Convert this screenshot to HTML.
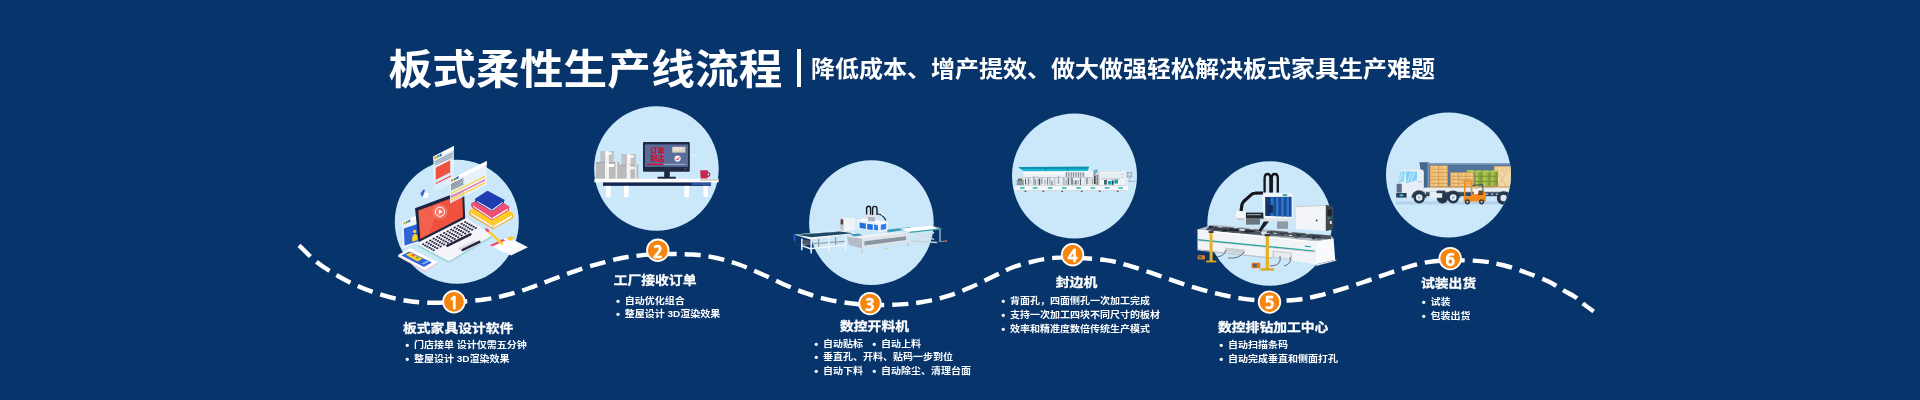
<!DOCTYPE html>
<html lang="zh-CN">
<head>
<meta charset="utf-8">
<title>板式柔性生产线流程</title>
<style>
  html, body { margin: 0; padding: 0; }
  body {
    width: 1920px; height: 400px; overflow: hidden;
    background: #07346a;
    font-family: "Liberation Sans", "Noto Sans CJK SC", sans-serif;
    color: #fff;
  }
  #stage { position: relative; width: 1920px; height: 400px; overflow: hidden; background: #07346a; }
  #txt { position: absolute; left: 0; top: 0; width: 1920px; height: 400px; will-change: transform; }
  #art { position: absolute; left: 0; top: 0; width: 1920px; height: 400px; }
  .t { position: absolute; white-space: nowrap; color: #fff; line-height: 1; transform-origin: 0 50%; }
  .title { left: 388.4px; top: 48.6px; font-size: 43.6px; font-weight: 700; letter-spacing: 0.2px; transform: scaleY(0.95); }
  .bar { position: absolute; left: 797.3px; top: 49px; width: 3.4px; height: 38px; background: #fff; }
  .sub { left: 811px; top: 57px; font-size: 24px; font-weight: 700; transform: scaleY(0.94); }
  .h { font-size: 13.8px; font-weight: 700; -webkit-text-stroke: 0.3px #fff; transform: scaleY(0.9); }
  .b { font-size: 10px; font-weight: 700; transform: scaleY(0.93); }
  .b i { font-style: normal; display: inline-block; width: 8.8px; font-size: 11.5px; line-height: 10px; vertical-align: -0.3px; }
  .num { position: absolute; width: 20px; height: 20px; text-align: center; line-height: 20px;
         font-size: 17px; font-weight: 800; -webkit-text-stroke: 0.3px #fff; color: #fff; font-family: "NanumGothic", "Liberation Sans", sans-serif; }
</style>
</head>
<body>
<div id="stage">
<svg id="art" viewBox="0 0 1920 400" width="1920" height="400">
  <!-- light circles -->
  <g fill="#cbe7fa">
    <circle cx="456.8" cy="221.8" r="62"/>
    <circle cx="656.4" cy="168.5" r="62.3"/>
    <circle cx="871.4" cy="222.6" r="62.3"/>
    <circle cx="1074.5" cy="176" r="62.5"/>
    <circle cx="1269.6" cy="223.5" r="62.3"/>
    <circle cx="1448.5" cy="175" r="62.5"/>
  </g>
  <!-- ILLS -->
  <!-- ============ illustration 1: laptop / books / windows ============ -->
  <g id="ill1">
    <!-- small browser window left of laptop -->
    <polygon points="402.4,225.2 419,217.6 419,242 402.4,248.6" fill="#eaf3fb"/>
    <polygon points="402.4,222 419,214.4 419,217.8 402.4,225.4" fill="#ffffff"/>
    <polygon points="403.4,222.6 405.4,221.7 405.4,223.9 403.4,224.8" fill="#f08a24"/>
    <polygon points="405.8,221.5 407.8,220.6 407.8,222.8 405.8,223.7" fill="#3aa655"/>
    <polygon points="408.2,220.4 410.2,219.5 410.2,221.7 408.2,222.6" fill="#2b55c9"/>
    <polygon points="403.8,228.4 419,223.4 419,241 404.6,245.6" fill="#2d63d6"/>
    <circle cx="414.6" cy="231.4" r="1.7" fill="#ffd21f"/>
    <path d="M412.2 241.8 C411.6 237 413 234.2 415 234 C417.2 234 418 236.6 417.6 240 Z" fill="#ffd21f"/>
    <!-- laptop deck -->
    <path d="M418 243.5 L464.5 218.6 L491.4 236.2 Q492.4 237.4 491 238.2 L450.4 262.2 Q448.8 263 447.2 262.2 L418.4 247 Z" fill="#9ed7d6"/>
    <path d="M418.4 241.4 L464.5 216.8 L490.6 234.6 Q491.8 235.6 490.4 236.4 L450.2 260.4 Q448.8 261.2 447.4 260.4 L418.6 245 Z" fill="#f5f4fa"/>
    
    <!-- keyboard: rows of keys -->
    <g fill="#23233b">
      <ellipse cx="423.2" cy="244.2" rx="1.25" ry="0.82" transform="rotate(-27 423.2 244.2)"/>
      <ellipse cx="426.7" cy="242.3" rx="1.25" ry="0.82" transform="rotate(-27 426.7 242.3)"/>
      <ellipse cx="430.2" cy="240.5" rx="1.25" ry="0.82" transform="rotate(-27 430.2 240.5)"/>
      <ellipse cx="433.7" cy="238.6" rx="1.25" ry="0.82" transform="rotate(-27 433.7 238.6)"/>
      <ellipse cx="437.2" cy="236.8" rx="1.25" ry="0.82" transform="rotate(-27 437.2 236.8)"/>
      <ellipse cx="440.7" cy="234.9" rx="1.25" ry="0.82" transform="rotate(-27 440.7 234.9)"/>
      <ellipse cx="444.2" cy="233.1" rx="1.25" ry="0.82" transform="rotate(-27 444.2 233.1)"/>
      <ellipse cx="447.7" cy="231.2" rx="1.25" ry="0.82" transform="rotate(-27 447.7 231.2)"/>
      <ellipse cx="451.2" cy="229.4" rx="1.25" ry="0.82" transform="rotate(-27 451.2 229.4)"/>
      <ellipse cx="454.7" cy="227.5" rx="1.25" ry="0.82" transform="rotate(-27 454.7 227.5)"/>
      <ellipse cx="458.2" cy="225.7" rx="1.25" ry="0.82" transform="rotate(-27 458.2 225.7)"/>
      <ellipse cx="461.7" cy="223.8" rx="1.25" ry="0.82" transform="rotate(-27 461.7 223.8)"/>
      <ellipse cx="465.2" cy="222.0" rx="1.25" ry="0.82" transform="rotate(-27 465.2 222.0)"/>
      <ellipse cx="425.3" cy="245.4" rx="1.25" ry="0.82" transform="rotate(-27 425.3 245.4)"/>
      <ellipse cx="428.8" cy="243.5" rx="1.25" ry="0.82" transform="rotate(-27 428.8 243.5)"/>
      <ellipse cx="432.3" cy="241.7" rx="1.25" ry="0.82" transform="rotate(-27 432.3 241.7)"/>
      <ellipse cx="435.8" cy="239.8" rx="1.25" ry="0.82" transform="rotate(-27 435.8 239.8)"/>
      <ellipse cx="439.3" cy="238.0" rx="1.25" ry="0.82" transform="rotate(-27 439.3 238.0)"/>
      <ellipse cx="442.8" cy="236.1" rx="1.25" ry="0.82" transform="rotate(-27 442.8 236.1)"/>
      <ellipse cx="446.3" cy="234.3" rx="1.25" ry="0.82" transform="rotate(-27 446.3 234.3)"/>
      <ellipse cx="449.8" cy="232.4" rx="1.25" ry="0.82" transform="rotate(-27 449.8 232.4)"/>
      <ellipse cx="453.3" cy="230.6" rx="1.25" ry="0.82" transform="rotate(-27 453.3 230.6)"/>
      <ellipse cx="456.8" cy="228.7" rx="1.25" ry="0.82" transform="rotate(-27 456.8 228.7)"/>
      <ellipse cx="460.3" cy="226.9" rx="1.25" ry="0.82" transform="rotate(-27 460.3 226.9)"/>
      <ellipse cx="463.8" cy="225.0" rx="1.25" ry="0.82" transform="rotate(-27 463.8 225.0)"/>
      <ellipse cx="467.3" cy="223.2" rx="1.25" ry="0.82" transform="rotate(-27 467.3 223.2)"/>
      <ellipse cx="427.4" cy="246.6" rx="1.25" ry="0.82" transform="rotate(-27 427.4 246.6)"/>
      <ellipse cx="430.9" cy="244.8" rx="1.25" ry="0.82" transform="rotate(-27 430.9 244.8)"/>
      <ellipse cx="434.4" cy="242.9" rx="1.25" ry="0.82" transform="rotate(-27 434.4 242.9)"/>
      <ellipse cx="437.9" cy="241.0" rx="1.25" ry="0.82" transform="rotate(-27 437.9 241.0)"/>
      <ellipse cx="441.4" cy="239.2" rx="1.25" ry="0.82" transform="rotate(-27 441.4 239.2)"/>
      <ellipse cx="444.9" cy="237.3" rx="1.25" ry="0.82" transform="rotate(-27 444.9 237.3)"/>
      <ellipse cx="448.4" cy="235.5" rx="1.25" ry="0.82" transform="rotate(-27 448.4 235.5)"/>
      <ellipse cx="451.9" cy="233.7" rx="1.25" ry="0.82" transform="rotate(-27 451.9 233.7)"/>
      <ellipse cx="455.4" cy="231.8" rx="1.25" ry="0.82" transform="rotate(-27 455.4 231.8)"/>
      <ellipse cx="458.9" cy="229.9" rx="1.25" ry="0.82" transform="rotate(-27 458.9 229.9)"/>
      <ellipse cx="462.4" cy="228.1" rx="1.25" ry="0.82" transform="rotate(-27 462.4 228.1)"/>
      <ellipse cx="465.9" cy="226.2" rx="1.25" ry="0.82" transform="rotate(-27 465.9 226.2)"/>
      <ellipse cx="469.4" cy="224.4" rx="1.25" ry="0.82" transform="rotate(-27 469.4 224.4)"/>
      <ellipse cx="429.5" cy="247.8" rx="1.25" ry="0.82" transform="rotate(-27 429.5 247.8)"/>
      <ellipse cx="433.0" cy="245.9" rx="1.25" ry="0.82" transform="rotate(-27 433.0 245.9)"/>
      <ellipse cx="436.5" cy="244.1" rx="1.25" ry="0.82" transform="rotate(-27 436.5 244.1)"/>
      <ellipse cx="440.0" cy="242.2" rx="1.25" ry="0.82" transform="rotate(-27 440.0 242.2)"/>
      <ellipse cx="443.5" cy="240.4" rx="1.25" ry="0.82" transform="rotate(-27 443.5 240.4)"/>
      <ellipse cx="447.0" cy="238.5" rx="1.25" ry="0.82" transform="rotate(-27 447.0 238.5)"/>
      <ellipse cx="450.5" cy="236.7" rx="1.25" ry="0.82" transform="rotate(-27 450.5 236.7)"/>
      <ellipse cx="454.0" cy="234.8" rx="1.25" ry="0.82" transform="rotate(-27 454.0 234.8)"/>
      <ellipse cx="457.5" cy="233.0" rx="1.25" ry="0.82" transform="rotate(-27 457.5 233.0)"/>
      <ellipse cx="461.0" cy="231.1" rx="1.25" ry="0.82" transform="rotate(-27 461.0 231.1)"/>
      <ellipse cx="464.5" cy="229.3" rx="1.25" ry="0.82" transform="rotate(-27 464.5 229.3)"/>
      <ellipse cx="468.0" cy="227.4" rx="1.25" ry="0.82" transform="rotate(-27 468.0 227.4)"/>
      <ellipse cx="471.5" cy="225.6" rx="1.25" ry="0.82" transform="rotate(-27 471.5 225.6)"/>
      <ellipse cx="431.6" cy="249.0" rx="1.25" ry="0.82" transform="rotate(-27 431.6 249.0)"/>
      <ellipse cx="435.1" cy="247.2" rx="1.25" ry="0.82" transform="rotate(-27 435.1 247.2)"/>
      <ellipse cx="438.6" cy="245.3" rx="1.25" ry="0.82" transform="rotate(-27 438.6 245.3)"/>
      <ellipse cx="442.1" cy="243.4" rx="1.25" ry="0.82" transform="rotate(-27 442.1 243.4)"/>
      <ellipse cx="445.6" cy="241.6" rx="1.25" ry="0.82" transform="rotate(-27 445.6 241.6)"/>
      <ellipse cx="449.1" cy="239.8" rx="1.25" ry="0.82" transform="rotate(-27 449.1 239.8)"/>
      <ellipse cx="452.6" cy="237.9" rx="1.25" ry="0.82" transform="rotate(-27 452.6 237.9)"/>
      <ellipse cx="456.1" cy="236.1" rx="1.25" ry="0.82" transform="rotate(-27 456.1 236.1)"/>
      <ellipse cx="459.6" cy="234.2" rx="1.25" ry="0.82" transform="rotate(-27 459.6 234.2)"/>
      <ellipse cx="463.1" cy="232.3" rx="1.25" ry="0.82" transform="rotate(-27 463.1 232.3)"/>
      <ellipse cx="466.6" cy="230.5" rx="1.25" ry="0.82" transform="rotate(-27 466.6 230.5)"/>
      <ellipse cx="470.1" cy="228.7" rx="1.25" ry="0.82" transform="rotate(-27 470.1 228.7)"/>
      <ellipse cx="473.6" cy="226.8" rx="1.25" ry="0.82" transform="rotate(-27 473.6 226.8)"/>
      <ellipse cx="433.7" cy="250.2" rx="1.25" ry="0.82" transform="rotate(-27 433.7 250.2)"/>
      <ellipse cx="437.2" cy="248.3" rx="1.25" ry="0.82" transform="rotate(-27 437.2 248.3)"/>
      <ellipse cx="440.7" cy="246.5" rx="1.25" ry="0.82" transform="rotate(-27 440.7 246.5)"/>
      <ellipse cx="444.2" cy="244.6" rx="1.25" ry="0.82" transform="rotate(-27 444.2 244.6)"/>
      <ellipse cx="447.7" cy="242.8" rx="1.25" ry="0.82" transform="rotate(-27 447.7 242.8)"/>
      <ellipse cx="451.2" cy="240.9" rx="1.25" ry="0.82" transform="rotate(-27 451.2 240.9)"/>
      <ellipse cx="454.7" cy="239.1" rx="1.25" ry="0.82" transform="rotate(-27 454.7 239.1)"/>
      <ellipse cx="458.2" cy="237.2" rx="1.25" ry="0.82" transform="rotate(-27 458.2 237.2)"/>
      <ellipse cx="461.7" cy="235.4" rx="1.25" ry="0.82" transform="rotate(-27 461.7 235.4)"/>
      <ellipse cx="465.2" cy="233.5" rx="1.25" ry="0.82" transform="rotate(-27 465.2 233.5)"/>
      <ellipse cx="468.7" cy="231.7" rx="1.25" ry="0.82" transform="rotate(-27 468.7 231.7)"/>
      <ellipse cx="472.2" cy="229.8" rx="1.25" ry="0.82" transform="rotate(-27 472.2 229.8)"/>
      <ellipse cx="475.7" cy="228.0" rx="1.25" ry="0.82" transform="rotate(-27 475.7 228.0)"/>
    </g>
    <!-- touch bars -->
    <path d="M447.4 245.6 L470.4 234.4" stroke="#23233b" stroke-width="2.6" stroke-linecap="round"/>
    <polygon points="457.5,248.4 474.5,240.2 480.6,243.6 463.6,251.8" fill="#dedbe8"/>
    <path d="M462.6 250 L479.4 241.8" stroke="#23233b" stroke-width="2.4" stroke-linecap="round"/>
    <!-- laptop lid -->
    <polygon points="415,208.2 464,190 465.2,218.6 418.6,242.2" fill="#1b2442"/>
    <polygon points="418.4,210.6 462.2,194 463,217 420.2,239" fill="#ef513d"/>
    <polygon points="418.5,211 440,203 429.5,233.6 420.4,238" fill="#f3705c" opacity="0.55"/>
    <circle cx="440" cy="211.8" r="7.6" fill="#f58e7c" opacity="0.55"/>
    <circle cx="440" cy="211.8" r="4.6" fill="none" stroke="#fff" stroke-width="1"/>
    <polygon points="438.6,209.4 442.6,211.4 438.8,214.4" fill="#fff"/>
    <!-- floating window A -->
    <polygon points="433.4,156.6 453.9,146.1 453.9,170.1 433.4,180.6" fill="#eaf3fb" opacity="0.9"/>
    <polygon points="433.4,180.6 453.9,170.1 453.9,182.1 433.4,192.6" fill="#eaf3fb" opacity="0.55"/>
    <polygon points="433.4,156.6 453.9,146.1 453.9,150.1 433.4,160.6" fill="#ffffff"/>
    <polygon points="434.3,157.0 436.5,155.9 436.5,158.3 434.3,159.4" fill="#f08a24"/>
    <polygon points="436.9,155.7 439.1,154.6 439.1,157.0 436.9,158.1" fill="#3aa655"/>
    <polygon points="439.5,154.4 441.7,153.3 441.7,155.7 439.5,156.8" fill="#2b55c9"/>
    <polygon points="434.9,161.4 452.6,152.4 452.6,153.2 434.9,162.2" fill="#7b8496"/>
    <polygon points="434.9,163.2 452.6,154.2 452.6,155.0 434.9,164.0" fill="#7b8496"/>
    <polygon points="434.9,165.0 452.6,156.0 452.6,156.8 434.9,165.8" fill="#7b8496"/>
    <polygon points="435.7,167.7 450.2,160.3 450.2,172.4 435.7,179.8" fill="#ef513d"/>
    <polygon points="435.7,183.0 451.0,175.2 451.0,176.5 435.7,184.3" fill="#ef513d"/>
    <!-- floating window B -->
    <polygon points="450.0,179.4 486.8,161.0 486.8,185.0 450.0,203.4" fill="#eaf3fb" opacity="0.85"/>
    <polygon points="450.0,179.4 486.8,161.0 486.8,165.0 450.0,183.4" fill="#ffffff"/>
    <polygon points="450.9,179.9 453.2,178.7 453.2,181.1 450.9,182.3" fill="#f08a24"/>
    <polygon points="453.6,178.5 455.9,177.4 455.9,179.8 453.6,180.9" fill="#3aa655"/>
    <polygon points="456.3,177.2 458.6,176.0 458.6,178.4 456.3,179.6" fill="#2b55c9"/>
    <polygon points="451.0,192.7 485.0,175.7 485.0,177.1 451.0,194.1" fill="#ffd21f"/>
    <polygon points="451.0,196.2 485.0,179.2 485.0,180.6 451.0,197.6" fill="#f0569a"/>
    <polygon points="451.0,199.2 485.0,182.2 485.0,183.6 451.0,200.6" fill="#ffd21f"/>
    <polygon points="451.0,184.3 463.4,178.1 463.4,178.8 451.0,185.0" fill="#4b5366"/>
    <polygon points="451.0,185.7 463.4,179.5 463.4,180.2 451.0,186.4" fill="#4b5366"/>
    <polygon points="451.0,187.1 463.4,180.9 463.4,181.6 451.0,187.8" fill="#4b5366"/>
    <polygon points="451.0,188.5 463.4,182.3 463.4,183.0 451.0,189.2" fill="#4b5366"/>
    <polygon points="451.0,189.9 463.4,183.7 463.4,184.4 451.0,190.6" fill="#4b5366"/>
    <!-- thumbs-up -->
    <path d="M420.4 193.4 L423.4 189.4 Q424.6 188.8 424.8 190.2 L424.6 192 L427.8 193 Q429 193.6 428.6 194.8 L427.4 197.6 Q427 198.4 426 198.2 L422.2 197.2 Z" fill="#ffffff"/>
    <path d="M420.4 193.4 L423.4 189.4 Q424.6 188.8 424.8 190.2 L424.4 192.4 L422.6 196.8 L422.2 197.2 Z" fill="#2f66d4"/>
    <!-- books -->
    <polygon points="469.4,211.0 493.0,225.0 493.0,229.2 469.4,215.2" fill="#f4a21c"/>
    <polygon points="493.0,225.0 513.0,214.0 513.0,218.2 493.0,229.2" fill="#f9ad1f"/>
    <polygon points="493.3,225.7 511.8,215.1 511.8,217.4 493.3,228.0" fill="#ffffff"/>
    <polygon points="470.8,212.2 492.7,225.7 492.7,228.0 470.8,214.5" fill="#f1f1f6"/>
    <path d="M469.4 211.0 L489.4 200.0 L513.0 214.0 L493.0 225.0 Z" fill="#ffcb27" stroke="#ffcb27" stroke-width="1.2" stroke-linejoin="round"/>
    <polygon points="471.4,203.8 492.0,217.0 492.0,220.2 471.4,207.0" fill="#d9345c"/>
    <polygon points="492.0,217.0 509.0,207.0 509.0,210.2 492.0,220.2" fill="#e03e66"/>
    <polygon points="492.3,217.7 507.8,208.1 507.8,209.9 492.3,219.5" fill="#ffffff"/>
    <polygon points="472.8,205.0 491.7,217.7 491.7,219.5 472.8,206.8" fill="#f1f1f6"/>
    <path d="M471.4 203.8 L489.2 194.2 L509.0 207.0 L492.0 217.0 Z" fill="#ee4f74" stroke="#ee4f74" stroke-width="1.2" stroke-linejoin="round"/>
    <polygon points="475.4,199.2 492.0,208.6 492.0,211.2 475.4,201.8" fill="#16308f"/>
    <polygon points="492.0,208.6 504.0,200.2 504.0,202.8 492.0,211.2" fill="#1a379f"/>
    <polygon points="492.3,209.3 502.8,201.3 502.8,202.7 492.3,210.7" fill="#ffffff"/>
    <polygon points="476.8,200.4 491.7,209.3 491.7,210.7 476.8,201.8" fill="#f1f1f6"/>
    <path d="M475.4 199.2 L487.4 191.4 L504.0 200.2 L492.0 208.6 Z" fill="#1f3db0" stroke="#1f3db0" stroke-width="1.2" stroke-linejoin="round"/>
    <!-- notepad + pencil -->
    <polygon points="497,248 514,240 528,247.2 511,255.6" fill="#f6f8fc"/>
    <polygon points="490,245 505,238 519,245.4 504,252.6" fill="#ffffff"/>
    <polygon points="490,245 503,239 505.4,240.4 492.4,246.6" fill="#ee4f74"/>
    <polygon points="506.4,238.4 511.4,236 515,238 510,240.6" fill="#ffcb27"/>
    <path d="M487.4 230.4 L502 243.6" stroke="#ffcb27" stroke-width="2.4" stroke-linecap="round"/>
    <path d="M486.4 229.4 L488 230.9" stroke="#ee4f74" stroke-width="2.6" stroke-linecap="round"/>
    <!-- phone -->
    <polygon points="397.6,256.6 410.2,249.6 437.4,263.4 424.8,271.6" fill="#f3c3cc"/>
    <polygon points="397.6,255.2 410.2,248.2 437.4,262.2 424.8,270.2" fill="#ffffff"/>
    <polygon points="401.4,255.6 409.4,251.4 431.8,262.4 424,267" fill="#2d63d6"/>
    <polygon points="405.6,254.8 410.4,252.4 422.6,258.6 417.6,261.4" fill="#ffcb27"/>
    <polygon points="411,255.2 413.2,254.2 415.8,255.4 413.6,256.6" fill="#ef513d"/>
    <polygon points="415.2,257.4 417.2,256.4 419.4,257.6 417.4,258.6" fill="#3aa655"/>
    <polygon points="421.6,263.4 428.4,260 430.2,260.9 423.4,264.4" fill="#8fb2f2"/>
  </g>

  <!-- ============ illustration 2: desk / monitor / boxes ============ -->
  <g id="ill2">
    <!-- boxes -->
    <g>
      <rect x="600.4" y="151" width="13.4" height="11.4" fill="#c2c2c2"/>
      <rect x="605.2" y="151" width="3.6" height="11.4" fill="#f4f4f4"/>
      <rect x="606" y="152.4" width="5.6" height="2.2" fill="#ffffff"/>
      <rect x="596" y="162" width="23" height="17" fill="#bababa"/>
      <rect x="596" y="162" width="23" height="1" fill="#a9a9a9"/>
      <rect x="605" y="162" width="4" height="17" fill="#f2f2f2"/>
      <rect x="607.4" y="164" width="6.8" height="3" fill="#ffffff"/>
      <rect x="615.6" y="162" width="1.6" height="17" fill="#ededed"/>
      <rect x="621.4" y="154" width="14.6" height="11" fill="#c2c2c2"/>
      <rect x="627" y="154" width="3.6" height="11" fill="#f4f4f4"/>
      <rect x="628" y="155.4" width="5.4" height="2.2" fill="#ffffff"/>
      <rect x="619" y="164.8" width="19.2" height="14.2" fill="#bababa"/>
      <rect x="619" y="164.8" width="19.2" height="1" fill="#a9a9a9"/>
      <rect x="626.6" y="164.8" width="3.8" height="14.2" fill="#f2f2f2"/>
      <rect x="628.6" y="166.6" width="6" height="2.8" fill="#f4f4f4"/>
      <rect x="635" y="164.8" width="1.4" height="14.2" fill="#ededed"/>
    </g>
    <!-- monitor -->
    <rect x="664.2" y="171" width="5.6" height="6.4" fill="#1d2740"/>
    <rect x="657.4" y="176.8" width="18.6" height="2.1" rx="0.8" fill="#1d2740"/>
    <rect x="643" y="142" width="46.8" height="29.8" rx="1" fill="#1f2a44"/>
    <rect x="645" y="144.4" width="43" height="22.4" fill="#5a6d9a"/>
    <rect x="646.8" y="163.8" width="38.6" height="1" fill="#a9b3c8"/>
    <rect x="646.8" y="163.6" width="16.8" height="1.4" fill="#c8102e"/>
    <rect x="672.2" y="146.8" width="13.2" height="5.8" fill="#d8d1bf"/>
    <circle cx="677.6" cy="158.6" r="3.1" fill="#f4f6fa"/>
    <path d="M676 158.6 L677.3 160 L679.4 157.2" fill="none" stroke="#c8102e" stroke-width="0.9"/>
    <circle cx="685.4" cy="168.8" r="0.6" fill="#7d8bb0"/>
    <!-- sparkles -->
    <circle cx="693.4" cy="155" r="0.7" fill="#fff"/>
    <circle cx="695.6" cy="155.4" r="0.5" fill="#fff"/>
    <circle cx="691.6" cy="155.6" r="0.5" fill="#fff"/>
    <!-- mug -->
    <path d="M706.6 172.4 C710.8 171.6 710.8 177 706.6 176.6" fill="none" stroke="#c5264b" stroke-width="1.3"/>
    <path d="M700.2 170.2 L708 170.2 L707.6 177.6 Q707.4 178.9 706 178.9 L702.2 178.9 Q700.8 178.9 700.6 177.6 Z" fill="#c5264b"/>
    <path d="M704 168.6 C703 167.4 705 166.6 704 165.2" fill="none" stroke="#fff" stroke-width="0.6"/>
    <!-- desk -->
    <rect x="603" y="182" width="107.8" height="3.9" fill="#142750"/>
    <rect x="691.5" y="182.6" width="19.3" height="2.6" fill="#2c55a6"/>
    <rect x="594.4" y="178.7" width="124.2" height="3.7" fill="#ffffff"/>
    <rect x="700" y="178.7" width="18.6" height="2.1" fill="#d5d2c8"/>
    <g fill="#ffffff">
      <rect x="605.8" y="185.9" width="4.8" height="11.2"/>
      <rect x="624" y="185.9" width="4.6" height="11.2"/>
      <rect x="684.4" y="185.9" width="4.6" height="11.2"/>
      <rect x="703.4" y="185.9" width="4.6" height="11.2"/>
    </g>
    <text x="650.2" y="153" font-family="'Liberation Sans','Noto Sans CJK SC',sans-serif" font-weight="900" font-size="7.2" fill="#c8102e">订单</text>
    <text x="650.2" y="160.8" font-family="'Liberation Sans','Noto Sans CJK SC',sans-serif" font-weight="900" font-size="7.2" fill="#c8102e">到达</text>
    <text x="673.4" y="151.4" font-family="'Liberation Sans',sans-serif" font-weight="700" font-style="italic" font-size="4.6" fill="#f3f0e8">PAY</text>
  </g>

  <!-- ============ illustration 3: CNC nesting machine ============ -->
  <g id="ill3">
    <!-- left conveyor: back legs / bars (grey) -->
    <g stroke="#8f9aa6" stroke-width="1.1" fill="none">
      <path d="M818.6 238.6 V247 M835.6 237 V245.4"/>
      <path d="M802 244.4 L818.6 243.2 L845 241.4"/>
    </g>
    <polygon points="802.4,239.2 810.8,240.8 810.8,245.2 802.4,242" fill="#4d5863"/>
    <!-- front legs / bars (white) -->
    <g stroke="#f1f4f7" stroke-width="1.5" fill="none">
      <path d="M801.8 238.6 V250.2 M811.2 238.4 V253.6 M828.8 237 V252 M845.4 235.6 V250.6"/>
      <path d="M801.8 245.6 L811.2 249 M811.2 248.4 L845.4 245.2"/>
    </g>
    <!-- belt -->
    <polygon points="793.8,234.6 840,230.8 857.6,233.2 811,239.4 808.6,239" fill="#f4f6f8"/>
    <polygon points="796,234.8 840,231.5 853.4,233.3 811.4,237.2" fill="#1f4764"/>
    <polygon points="796,234.8 840,231.5 841.6,231.7 797.8,235.1" fill="#4f8ea8"/>
    <polygon points="793.2,235.6 795.4,235.3 795.8,241 793.6,240.8" fill="#2b50c8"/>
    <path d="M794.6 241 Q795 246 799 245.6" stroke="#3c4650" stroke-width="0.5" fill="none"/>
    <!-- control cabinet -->
    <polygon points="840,218.2 843.8,217.8 855.2,218.4 855.2,230.2 843.8,231 840,229.6" fill="#f1f4f7"/>
    <polygon points="840,218.2 843.8,218.8 843.8,231 840,229.6" fill="#c3cad2"/>
    <rect x="840.7" y="219.4" width="2.4" height="5" fill="#5a3a44"/>
    <!-- machine bed body -->
    <polygon points="847,236.6 862,238.4 862,248.6 848.8,244.8" fill="#b4bdc7"/>
    <polygon points="862,238.4 908.6,232.4 908.6,241.6 862,248.6" fill="#dfe4e9"/>
    <polygon points="864.4,241.2 906,236.2 906,240 864.4,245.6" fill="#8a95a1"/>
    <polygon points="847,236.6 887.5,232.4 908.6,232.4 862,238.4" fill="#eef1f4"/>
    <!-- teal bed top -->
    <polygon points="887.4,229.6 909.4,227.2 913,228.8 887.4,232.6" fill="#3f9db8"/>
    <polygon points="850,234.6 858.4,233.6 862.6,235.4 854,236.6" fill="#3f9db8"/>
    <path d="M862 248.4 V251.4 M886.2 245.2 V248.4 M907.8 241.6 V244.6" stroke="#d5dbe1" stroke-width="1.5"/>
    <circle cx="862" cy="251.6" r="0.7" fill="#d59a2a"/>
    <circle cx="886.2" cy="248.6" r="0.7" fill="#d59a2a"/>
    <circle cx="907.8" cy="244.8" r="0.7" fill="#d59a2a"/>
    <!-- gantry housing -->
    <polygon points="856.8,220.4 864,218.6 887.6,221.6 879.4,223.6" fill="#fbfcfd"/>
    <polygon points="856.8,220.4 879.4,223.6 879.4,232 856.8,228.8" fill="#eef2f6"/>
    <polygon points="879.4,223.6 887.6,221.6 887.6,229.8 879.4,232" fill="#f8fafc"/>
    <polygon points="859.6,222.6 865.8,223.5 865.8,229 859.6,228.1" fill="#1e6fe0"/>
    <polygon points="867.2,223.7 872.8,224.5 872.8,230 867.2,229.2" fill="#1e6fe0"/>
    <polygon points="874,224.6 878,225.2 878,230.6 874,230" fill="#2f7ff0"/>
    <polygon points="880.8,224.8 886.2,223.5 886.2,229 880.8,230.3" fill="#2b7cf0"/>
    <polygon points="864.4,213.6 877.4,215.2 877.4,220.6 864.4,219" fill="#e1e6ec"/>
    <rect x="868" y="217" width="7" height="4.4" fill="#aeb7c1"/>
    <!-- hoses -->
    <g fill="none" stroke="#15171c" stroke-width="1.35">
      <path d="M866.6 214.6 V208.8 Q866.6 206.2 868.6 206.2 Q870.6 206.2 870.6 208.8 V214.8"/>
      <path d="M872.6 215 V209 Q872.6 206.4 874.8 206.4 Q877 206.4 877 209 V215"/>
      <path d="M877.8 214 Q882 213.6 886 220.4" stroke-width="1.1"/>
    </g>
    <path d="M879.6 211.2 L883.4 215.6" stroke="#f1f4f7" stroke-width="1.3"/>
    <!-- right scissor-lift table -->
    <g stroke="#d5dbe1" stroke-width="1.5" fill="none">
      <path d="M914.6 233.2 L934 239.4 M934.2 232.4 L913.2 241.4"/>
    </g>
    <polygon points="910.4,240.2 936.6,241.8 937.6,243.2 911.4,241.8" fill="#c9d0d7"/>
    <polygon points="899.4,228.8 931.8,225.8 941.6,228.2 909.4,231.8" fill="#ffffff"/>
    <polygon points="909.4,231.8 941.6,228.2 941.6,229.4 909.4,233" fill="#3aa6a6"/>
    <polygon points="931.8,225.8 941.6,228.2 941.6,229.4 936,228" fill="#59636e" opacity="0.6"/>
    <path d="M940 229.6 V241.6" stroke="#d5dbe1" stroke-width="1.1"/>
    <path d="M938.8 241.6 L945.6 241.2" stroke="#9aa4ae" stroke-width="0.9"/>
    <circle cx="946.2" cy="241" r="0.9" fill="#e0612a"/>
  </g>

  <!-- ============ illustration 4: edge banding machine ============ -->
  <g id="ill4">
    <rect x="1023.6" y="170.8" width="101.6" height="14.8" fill="#eef2f5"/>
    <rect x="1023.6" y="170.8" width="64" height="3.4" fill="#f7f9fb"/>
    <rect x="1016.8" y="180" width="7" height="5.6" fill="#8d98a4"/>
    <rect x="1018" y="178.6" width="4" height="2" fill="#59636e"/>
    <rect x="1022" y="178" width="1.2" height="1.2" fill="#e5c52b"/>
    <rect x="1025.0" y="178.7" width="1.0" height="5.7" fill="#4f5964"/>
    <rect x="1026.7" y="180.4" width="0.8" height="4.4" fill="#c3cbd3"/>
    <rect x="1027.9" y="178.0" width="1.0" height="6.9" fill="#7d8995"/>
    <rect x="1029.6" y="178.5" width="0.8" height="5.4" fill="#9aa5b0"/>
    <rect x="1031.4" y="179.9" width="1.2" height="5.1" fill="#dfe4e9"/>
    <rect x="1033.6" y="176.2" width="0.8" height="8.6" fill="#4f5964"/>
    <rect x="1035.1" y="179.6" width="1.0" height="5.4" fill="#7d8995"/>
    <rect x="1037.1" y="175.5" width="0.8" height="9.0" fill="#c3cbd3"/>
    <rect x="1038.6" y="178.6" width="1.6" height="6.3" fill="#4f5964"/>
    <rect x="1040.9" y="178.5" width="1.0" height="5.7" fill="#9aa5b0"/>
    <rect x="1042.3" y="177.4" width="0.8" height="6.5" fill="#aeb8c2"/>
    <rect x="1044.5" y="179.6" width="1.2" height="4.8" fill="#9aa5b0"/>
    <rect x="1047.1" y="177.2" width="1.0" height="7.5" fill="#6f7b87"/>
    <rect x="1049.1" y="176.8" width="1.6" height="8.1" fill="#aeb8c2"/>
    <rect x="1051.4" y="180.8" width="1.2" height="4.6" fill="#6f7b87"/>
    <rect x="1053.6" y="177.7" width="2.0" height="7.4" fill="#c3cbd3"/>
    <rect x="1056.3" y="178.8" width="1.2" height="6.5" fill="#dfe4e9"/>
    <rect x="1057.9" y="175.9" width="1.2" height="8.0" fill="#9aa5b0"/>
    <rect x="1060.1" y="179.4" width="1.2" height="5.8" fill="#dfe4e9"/>
    <rect x="1062.7" y="177.5" width="2.0" height="7.7" fill="#aeb8c2"/>
    <rect x="1065.4" y="179.4" width="1.6" height="5.6" fill="#aeb8c2"/>
    <rect x="1067.7" y="177.7" width="1.2" height="7.2" fill="#4f5964"/>
    <rect x="1069.6" y="176.5" width="1.2" height="8.3" fill="#c3cbd3"/>
    <rect x="1071.2" y="175.4" width="1.6" height="9.4" fill="#6f7b87"/>
    <rect x="1073.2" y="180.0" width="0.8" height="4.3" fill="#aeb8c2"/>
    <rect x="1074.7" y="180.4" width="2.0" height="4.2" fill="#6f7b87"/>
    <rect x="1077.7" y="179.9" width="0.8" height="4.7" fill="#7d8995"/>
    <rect x="1079.9" y="178.4" width="1.0" height="6.6" fill="#4f5964"/>
    <rect x="1082.3" y="179.5" width="0.8" height="5.2" fill="#dfe4e9"/>
    <rect x="1084.5" y="178.6" width="1.0" height="6.7" fill="#c3cbd3"/>
    <rect x="1086.5" y="177.4" width="1.0" height="6.9" fill="#4f5964"/>
    <rect x="1088.5" y="178.3" width="1.0" height="5.8" fill="#c3cbd3"/>
    <rect x="1089.9" y="177.8" width="2.0" height="6.2" fill="#dfe4e9"/>
    <rect x="1092.3" y="178.6" width="1.6" height="6.1" fill="#7d8995"/>
    <rect x="1094.6" y="179.1" width="1.2" height="5.6" fill="#dfe4e9"/>
    <rect x="1096.8" y="177.5" width="1.6" height="6.9" fill="#dfe4e9"/>
    <rect x="1099.4" y="174.9" width="1.2" height="9.1" fill="#9aa5b0"/>
    <rect x="1101.6" y="179.8" width="1.0" height="4.2" fill="#6f7b87"/>
    <rect x="1103.6" y="175.6" width="0.8" height="8.8" fill="#4f5964"/>
    <rect x="1105.8" y="176.0" width="1.6" height="9.1" fill="#9aa5b0"/>
    <rect x="1108.1" y="180.0" width="1.0" height="4.1" fill="#9aa5b0"/>
    <rect x="1110.5" y="175.7" width="1.6" height="8.8" fill="#6f7b87"/>
    <rect x="1112.8" y="178.2" width="2.0" height="5.8" fill="#7d8995"/>
    <rect x="1116.2" y="178.9" width="2.0" height="6.4" fill="#dfe4e9"/>
    <rect x="1100.5" y="180.5" width="2.2" height="2.2" fill="#1aa3b8"/>
    <rect x="1108.0" y="181.0" width="2.0" height="2.0" fill="#1aa3b8"/>
    <rect x="1112.5" y="180.6" width="2.4" height="2.4" fill="#2bb5b5"/>
    <rect x="1094.0" y="175.5" width="1.6" height="3.0" fill="#1aa3b8"/>
    <rect x="1097.0" y="178.6" width="1.4" height="1.4" fill="#d98a2b"/>
    <rect x="1023.6" y="177.2" width="100" height="0.8" fill="#b7c0c9"/>
    <rect x="1100" y="171.4" width="24" height="2.6" fill="#f6f8fa"/>
    <rect x="1100" y="173.8" width="24" height="0.7" fill="#aab4be"/>
    <rect x="1065" y="172" width="20" height="5" fill="#d5dbe1"/>
    <rect x="1066.0" y="172.4" width="0.8" height="4.4" fill="#6f7b87"/>
    <rect x="1068.4" y="172.4" width="0.8" height="4.4" fill="#6f7b87"/>
    <rect x="1070.8" y="172.4" width="0.8" height="4.4" fill="#6f7b87"/>
    <rect x="1073.2" y="172.4" width="0.8" height="4.4" fill="#6f7b87"/>
    <rect x="1075.6" y="172.4" width="0.8" height="4.4" fill="#6f7b87"/>
    <rect x="1078.0" y="172.4" width="0.8" height="4.4" fill="#6f7b87"/>
    <rect x="1080.4" y="172.4" width="0.8" height="4.4" fill="#6f7b87"/>
    <rect x="1082.8" y="172.4" width="0.8" height="4.4" fill="#6f7b87"/>
    <polygon points="1018.6,167 1089,166.7 1087.6,171.1 1023.6,171.3" fill="#1fb7d6"/>
    <polygon points="1018.6,167 1089,166.7 1088.4,168.7 1020.6,168.9" fill="#0f8fae"/>
    <path d="M1044.6 167.2 L1046.2 171 M1066.6 167 L1068 171" stroke="#0c6f88" stroke-width="0.7"/>
    
    <rect x="1099.4" y="171.6" width="21.6" height="13.6" fill="#f6f8fa" stroke="#c5cdd5" stroke-width="0.5"/>
    <rect x="1100.4" y="172.6" width="19" height="5.4" fill="#e3edf4"/>
    <rect x="1101" y="178.6" width="19" height="0.7" fill="#8f9aa6"/>
    <rect x="1104" y="180" width="3" height="4.6" fill="#59636e"/>
    <rect x="1108" y="181" width="3" height="3.6" fill="#1aa3b8"/>
    <rect x="1114.4" y="179.6" width="3.6" height="4" fill="#1aa3b8"/>
    <rect x="1111.6" y="180.4" width="2" height="4.4" fill="#39414b"/>
    <rect x="1093" y="171.4" width="6.2" height="13.8" fill="#d5dbe1"/>
    <rect x="1093.6" y="170" width="2" height="6" fill="#8f9aa6"/>
    <rect x="1095.6" y="169.6" width="1.8" height="3" fill="#2bb5d0"/>
    <rect x="1094" y="176" width="1.6" height="8" fill="#39414b"/>
    <rect x="1096.6" y="175" width="1.6" height="9.6" fill="#6f7b87"/>
    <rect x="1096.2" y="183" width="1.4" height="1.4" fill="#d98a2b"/>
    <rect x="1121" y="178" width="7" height="7.6" fill="#f1f4f7"/>
    <rect x="1014.8" y="185.3" width="113.2" height="5.4" fill="#f6f8fa"/>
    <rect x="1014.8" y="185.3" width="112.6" height="0.7" fill="#c5cdd5"/>
    <rect x="1014.8" y="190.2" width="112.6" height="0.6" fill="#c5cdd5"/>
    <rect x="1020.0" y="187.2" width="4.6" height="1.5" fill="#2bb5b5"/>
    <rect x="1032.8" y="187.2" width="4.6" height="1.5" fill="#2bb5b5"/>
    <rect x="1047.8" y="187.2" width="4.6" height="1.5" fill="#2bb5b5"/>
    <rect x="1062.0" y="187.2" width="4.6" height="1.5" fill="#2bb5b5"/>
    <rect x="1076.3" y="187.2" width="4.6" height="1.5" fill="#2bb5b5"/>
    <rect x="1090.5" y="187.2" width="4.6" height="1.5" fill="#2bb5b5"/>
    <rect x="1104.8" y="187.2" width="4.6" height="1.5" fill="#2bb5b5"/>
    <rect x="1118.3" y="187.2" width="4.6" height="1.5" fill="#2bb5b5"/>
    <rect x="1024.5" y="190.7" width="1.8" height="1.3" fill="#59636e"/>
    <rect x="1042.5" y="190.7" width="1.8" height="1.3" fill="#59636e"/>
    <rect x="1061.3" y="190.7" width="1.8" height="1.3" fill="#59636e"/>
    <rect x="1080.8" y="190.7" width="1.8" height="1.3" fill="#59636e"/>
    <rect x="1098.8" y="190.7" width="1.8" height="1.3" fill="#59636e"/>
    <rect x="1116.8" y="190.7" width="1.8" height="1.3" fill="#59636e"/>
    <rect x="1127.4" y="172.6" width="4.4" height="4.4" fill="#c9d0d7" stroke="#7d8995" stroke-width="0.5"/>
    <path d="M1129.6 177 V181.4 M1125 181.4 H1135.6" stroke="#aab4be" stroke-width="0.9" fill="none"/>
    <rect x="1125.2" y="178.6" width="2.4" height="6.8" fill="#e3e8ed"/>
  </g>

  <!-- ============ illustration 5: CNC drilling centre ============ -->
  <g id="ill5">
    <!-- right cabinet -->
    <polygon points="1296,206 1325.8,204.8 1325.8,231 1296,229" fill="#f2f4f7"/>
    <polygon points="1296,206 1325.8,204.8 1325.8,206 1296,207.2" fill="#c9d0d7"/>
    <polygon points="1325.8,204.8 1333.2,206.8 1333.2,229.6 1325.8,231" fill="#3e4650"/>
    <rect x="1327.4" y="209.4" width="4.4" height="6.6" fill="#1f242b"/>
    <rect x="1327.6" y="217.6" width="1.6" height="1.6" fill="#2aa7a7"/>
    <rect x="1329.8" y="221" width="2" height="3" fill="#dfe4ea"/>
    <circle cx="1316.6" cy="220.4" r="0.9" fill="#2a3038"/>
    <!-- bed top (mechanics) -->
    <polygon points="1197.5,229.4 1213,224.6 1331,235.4 1333.6,238.4 1315.5,241.4" fill="#b4bdc6"/>
    <polygon points="1209.5,225.8 1262,230 1262,235 1205,231" fill="#4b545e"/>
    <polygon points="1270,230.6 1331,235.6 1331,239.4 1270,235.6" fill="#4b545e"/>
    <g fill="#2f363f">
      <rect x="1214" y="227.2" width="8" height="2.4" transform="rotate(5 1214 227)"/>
      <rect x="1228" y="228.4" width="9" height="2.4" transform="rotate(5 1228 228)"/>
      <rect x="1243" y="229.6" width="9" height="2.4" transform="rotate(5 1243 229)"/>
      <rect x="1280" y="232.8" width="9" height="2.4" transform="rotate(5 1280 232)"/>
      <rect x="1296" y="234" width="9" height="2.4" transform="rotate(5 1296 234)"/>
      <rect x="1312" y="235.2" width="9" height="2.4" transform="rotate(5 1312 235)"/>
    </g>
    <g fill="#d5dbe1">
      <rect x="1218" y="225.8" width="4" height="1.4"/><rect x="1234" y="226.8" width="4" height="1.4"/>
      <rect x="1250" y="228" width="4" height="1.4"/><rect x="1288" y="231.4" width="4" height="1.4"/><rect x="1306" y="232.8" width="4" height="1.4"/>
    </g>
    <g id="bedclutter">
      <polygon points="1209.0,225.8 1212.6,226.1 1212.6,228.0 1209.0,227.7" fill="#23282f"/>
      <polygon points="1214.7,227.3 1217.4,227.6 1217.4,229.9 1214.7,229.6" fill="#3b434d"/>
      <polygon points="1218.0,226.4 1222.0,226.8 1222.0,227.9 1218.0,227.6" fill="#8f9aa6"/>
      <polygon points="1222.6,229.0 1227.1,229.4 1227.1,231.3 1222.6,230.9" fill="#1c1f24"/>
      <polygon points="1229.4,228.3 1233.9,228.7 1233.9,231.1 1229.4,230.7" fill="#23282f"/>
      <polygon points="1235.4,228.9 1238.4,229.2 1238.4,231.0 1235.4,230.7" fill="#1c1f24"/>
      <polygon points="1239.4,228.8 1244.8,229.3 1244.8,231.1 1239.4,230.6" fill="#dfe4e9"/>
      <polygon points="1245.7,230.6 1248.4,230.9 1248.4,232.7 1245.7,232.4" fill="#1c1f24"/>
      <polygon points="1249.3,230.3 1254.2,230.8 1254.2,232.2 1249.3,231.7" fill="#1c1f24"/>
      <polygon points="1256.5,230.5 1260.2,230.9 1260.2,232.2 1256.5,231.8" fill="#6b7580"/>
      <polygon points="1261.2,231.7 1265.7,232.1 1265.7,234.3 1261.2,233.9" fill="#dfe4e9"/>
      <polygon points="1267.0,231.1 1271.7,231.6 1271.7,233.3 1267.0,232.9" fill="#3b434d"/>
      <polygon points="1273.6,232.8 1276.6,233.1 1276.6,234.1 1273.6,233.8" fill="#dfe4e9"/>
      <polygon points="1277.2,233.8 1281.7,234.3 1281.7,236.4 1277.2,236.0" fill="#59636e"/>
      <polygon points="1283.5,233.9 1288.1,234.4 1288.1,236.0 1283.5,235.6" fill="#6b7580"/>
      <polygon points="1288.7,234.7 1292.1,235.0 1292.1,236.1 1288.7,235.8" fill="#dfe4e9"/>
      <polygon points="1294.0,235.9 1298.7,236.4 1298.7,238.5 1294.0,238.1" fill="#59636e"/>
      <polygon points="1300.6,235.0 1306.3,235.6 1306.3,237.9 1300.6,237.3" fill="#59636e"/>
      <polygon points="1307.1,234.9 1309.9,235.2 1309.9,237.3 1307.1,237.0" fill="#3b434d"/>
      <polygon points="1311.8,237.5 1315.7,237.8 1315.7,239.5 1311.8,239.2" fill="#3b434d"/>
      <polygon points="1317.0,237.9 1321.5,238.3 1321.5,240.4 1317.0,240.0" fill="#6b7580"/>
      <polygon points="1323.0,238.7 1328.0,239.2 1328.0,241.1 1323.0,240.7" fill="#8f9aa6"/>
    </g>
    <!-- bed front face -->
    <polygon points="1315.5,241.4 1333.6,238.4 1335.2,259.8 1315.5,264.6" fill="#f9fafb"/>
    <polygon points="1197.5,229.4 1315.5,241.4 1315.5,264.6 1292,260.4 1292,258 1272.6,255.2 1272.6,257.6 1197.5,249.4" fill="#f1f3f6"/>
    <polygon points="1197.5,229.4 1315.5,241.4 1315.5,242.6 1197.5,230.6" fill="#ffffff"/>
    <polygon points="1197.5,239 1314.8,250.4 1314.8,251.8 1197.5,240.4" fill="#2aa7a7"/>
    <polygon points="1197.5,240.4 1314.8,251.8 1314.8,252.4 1197.5,241" fill="#e7b9a4" opacity="0.7"/>
    <polygon points="1225,247.4 1245,249.6 1245,254 1225,251.8" fill="#c9d0d7"/>
    <polygon points="1272.6,250.4 1292,252.6 1292,260 1272.6,257.4" fill="#c5ccd4"/>
    <polygon points="1274,251.8 1290.6,253.6 1290.6,259 1274,256.8" fill="#e9edf1"/>
    <polygon points="1197.5,249.4 1272.6,257.6 1272.6,258.8 1197.5,250.6" fill="#b7c0c9"/>
    <polygon points="1315.5,264.6 1335.2,259.8 1337,260.6 1316,266" fill="#dfe4e9"/>
    <rect x="1305" y="245.6" width="6" height="1.2" fill="#2aa7a7" transform="rotate(5.5 1305 245.6)"/>
    <!-- left head unit -->
    <rect x="1245.6" y="212.6" width="18.4" height="6" fill="#23282f"/>
    <rect x="1247" y="214" width="14" height="1.2" fill="#8f9aa6"/>
    <rect x="1235.8" y="211" width="10" height="9.4" fill="#f4f6f8"/>
    <rect x="1236.6" y="218" width="8" height="2.4" fill="#c3cad2"/>
    <rect x="1246" y="218.6" width="14" height="6" fill="#6b7580"/>
    <!-- tower -->
    <polygon points="1262,192.4 1292.6,193.8 1292.6,220.2 1263.6,218.6" fill="#f4f7fa"/>
    <polygon points="1265.4,197 1291.6,196.8 1291.6,216.8 1265.4,215.8" fill="#164a94"/>
    <g fill="#2f74c8">
      <rect x="1271" y="197.4" width="2.4" height="18.6"/><rect x="1276" y="197.4" width="2.6" height="18.8"/>
      <rect x="1281.2" y="197.2" width="2.6" height="19.2"/><rect x="1286.4" y="197.2" width="2.6" height="19.4"/>
    </g>
    <rect x="1265.4" y="197" width="4.6" height="18.8" fill="#123a72"/>
    <rect x="1267" y="205" width="6" height="8" fill="#0f2f5e"/>
    <rect x="1282.6" y="194.2" width="4.6" height="1.8" fill="#2aa7a7"/>
    <rect x="1264" y="218.4" width="29.6" height="3.2" fill="#dfe4ea"/>
    <rect x="1277" y="221.4" width="11" height="7.4" fill="#8f9aa6"/>
    <polygon points="1263.8,221.6 1269,221.6 1261.4,231 1258.2,231" fill="#1c1f24"/>
    <!-- hoses -->
    <g fill="none" stroke="#14161a" stroke-linecap="butt">
      <path d="M1264.6 192.6 V178.4 Q1264.6 174 1267.6 174 Q1270.4 174 1270.4 178.4 V192.4" stroke-width="2.3"/>
      <path d="M1271.8 192.4 V178 Q1271.8 174 1274.8 174 Q1277.8 174 1277.8 178 V192.6" stroke-width="2.3"/>
      <path d="M1241 211 L1242 204.4 Q1242.6 202.4 1244.2 201 L1251.6 194.4 Q1253 193.2 1255 193.2 L1263 193" stroke-width="3.2" stroke-linejoin="round"/>
    </g>
    <!-- cables -->
    <g fill="none" stroke="#1c1f24" stroke-width="0.6">
      <path d="M1226 250 Q1224 258 1212 257"/>
      <path d="M1244 252 Q1240 259 1228 258"/>
      <path d="M1280 256 Q1282 266 1270 266"/>
      <path d="M1290 257 Q1292 264 1284 266"/>
    </g>
    <!-- yellow posts -->
    <rect x="1209.6" y="232.4" width="3" height="28.8" fill="#e5b32b"/>
    <rect x="1206" y="260.6" width="10.4" height="1.8" fill="#d9a21f"/>
    <rect x="1208.6" y="231" width="5" height="2" fill="#39414b"/>
    <rect x="1265.6" y="235.6" width="3.4" height="33.4" fill="#e5b32b"/>
    <rect x="1260.4" y="268.4" width="13.8" height="2.2" fill="#d9a21f"/>
    <rect x="1264.6" y="234" width="5.6" height="2.2" fill="#39414b"/>
    <!-- pedals -->
    <rect x="1197.6" y="255.2" width="7.4" height="4.2" rx="0.8" fill="#e27a22"/>
    <rect x="1198.6" y="256" width="3.4" height="2.4" fill="#59636e"/>
    <rect x="1251.6" y="262.8" width="8.8" height="5.4" rx="0.8" fill="#e27a22"/>
    <rect x="1252.8" y="263.8" width="4" height="3.2" fill="#59636e"/>
  </g>

  <!-- ============ illustration 6: truck / cargo / forklift ============ -->
  <clipPath id="clip6"><circle cx="1448.5" cy="175" r="62.5"/></clipPath>
  <g id="ill6" clip-path="url(#clip6)">
    <rect x="1396" y="201.4" width="116" height="3" fill="#b3d2ea"/>
    <rect x="1429" y="163" width="84" height="24.8" fill="#53759a"/>
    <rect x="1429" y="163" width="84" height="1.6" fill="#7fa0c0"/>
    <polygon points="1419.4,162.2 1429,162.2 1429,192 1423.6,192" fill="#47678a"/>
    <rect x="1427.4" y="162.2" width="1.8" height="29.8" fill="#6f93b6"/>
    <rect x="1494.6" y="166.6" width="18" height="21" fill="#f2d6a6" stroke="#d9b079" stroke-width="0.5"/>
    <path d="M1496 169 L1506 186 M1508 169 L1498 186" stroke="#e0bd87" stroke-width="0.9"/>
    <rect x="1494.6" y="166.6" width="18" height="4.8" fill="#efc98f"/>
    <rect x="1499" y="168.4" width="1.2" height="1.2" fill="#fbf0dc"/><rect x="1503.4" y="168.4" width="1.2" height="1.2" fill="#fbf0dc"/><rect x="1507.8" y="168.4" width="1.2" height="1.2" fill="#fbf0dc"/>
    <rect x="1466.6" y="170.8" width="8" height="3" fill="#93ad3b"/>
    <ellipse cx="1470.6" cy="171" rx="4" ry="0.9" fill="#b5c951"/>
    <rect x="1474.6" y="171" width="7.8" height="15.4" rx="0.8" fill="#8fa93a"/>
    <rect x="1475.8" y="171" width="2" height="15.4" fill="#b9cc58" opacity="0.85"/>
    <rect x="1480.4" y="171" width="1.4" height="15.4" fill="#7a9430" opacity="0.8"/>
    <rect x="1474.6" y="175.8" width="7.8" height="0.8" fill="#6f8a2a"/>
    <rect x="1474.6" y="181.2" width="7.8" height="0.8" fill="#6f8a2a"/>
    <ellipse cx="1478.5" cy="171.2" rx="3.9" ry="0.9" fill="#b5c951"/>
    <rect x="1482.4" y="171" width="7.8" height="15.4" rx="0.8" fill="#9ab63f"/>
    <rect x="1483.6" y="171" width="2" height="15.4" fill="#b9cc58" opacity="0.85"/>
    <rect x="1488.2" y="171" width="1.4" height="15.4" fill="#7a9430" opacity="0.8"/>
    <rect x="1482.4" y="175.8" width="7.8" height="0.8" fill="#6f8a2a"/>
    <rect x="1482.4" y="181.2" width="7.8" height="0.8" fill="#6f8a2a"/>
    <ellipse cx="1486.3" cy="171.2" rx="3.9" ry="0.9" fill="#b5c951"/>
    <rect x="1490.2" y="171" width="7.8" height="15.4" rx="0.8" fill="#8fa93a"/>
    <rect x="1491.4" y="171" width="2" height="15.4" fill="#b9cc58" opacity="0.85"/>
    <rect x="1496.0" y="171" width="1.4" height="15.4" fill="#7a9430" opacity="0.8"/>
    <rect x="1490.2" y="175.8" width="7.8" height="0.8" fill="#6f8a2a"/>
    <rect x="1490.2" y="181.2" width="7.8" height="0.8" fill="#6f8a2a"/>
    <ellipse cx="1494.1" cy="171.2" rx="3.9" ry="0.9" fill="#b5c951"/>
    <rect x="1430.0" y="165.6" width="8.8" height="3.5" fill="#efbd73" stroke="#d49a4a" stroke-width="0.35"/>
    <rect x="1435.5" y="166.7" width="1.2" height="1" fill="#fbe9c8"/>
    <rect x="1438.8" y="165.6" width="8.8" height="3.5" fill="#efbd73" stroke="#d49a4a" stroke-width="0.35"/>
    <rect x="1444.3" y="166.7" width="1.2" height="1" fill="#fbe9c8"/>
    <rect x="1430.0" y="169.1" width="8.8" height="3.5" fill="#efbd73" stroke="#d49a4a" stroke-width="0.35"/>
    <rect x="1435.5" y="170.2" width="1.2" height="1" fill="#fbe9c8"/>
    <rect x="1438.8" y="169.1" width="8.8" height="3.5" fill="#efbd73" stroke="#d49a4a" stroke-width="0.35"/>
    <rect x="1444.3" y="170.2" width="1.2" height="1" fill="#fbe9c8"/>
    <rect x="1430.0" y="172.7" width="8.8" height="3.5" fill="#efbd73" stroke="#d49a4a" stroke-width="0.35"/>
    <rect x="1435.5" y="173.7" width="1.2" height="1" fill="#fbe9c8"/>
    <rect x="1438.8" y="172.7" width="8.8" height="3.5" fill="#efbd73" stroke="#d49a4a" stroke-width="0.35"/>
    <rect x="1444.3" y="173.7" width="1.2" height="1" fill="#fbe9c8"/>
    <rect x="1430.0" y="176.2" width="8.8" height="3.5" fill="#efbd73" stroke="#d49a4a" stroke-width="0.35"/>
    <rect x="1435.5" y="177.3" width="1.2" height="1" fill="#fbe9c8"/>
    <rect x="1438.8" y="176.2" width="8.8" height="3.5" fill="#efbd73" stroke="#d49a4a" stroke-width="0.35"/>
    <rect x="1444.3" y="177.3" width="1.2" height="1" fill="#fbe9c8"/>
    <rect x="1430.0" y="179.7" width="8.8" height="3.5" fill="#efbd73" stroke="#d49a4a" stroke-width="0.35"/>
    <rect x="1435.5" y="180.8" width="1.2" height="1" fill="#fbe9c8"/>
    <rect x="1438.8" y="179.7" width="8.8" height="3.5" fill="#efbd73" stroke="#d49a4a" stroke-width="0.35"/>
    <rect x="1444.3" y="180.8" width="1.2" height="1" fill="#fbe9c8"/>
    <rect x="1430.0" y="183.3" width="8.8" height="3.5" fill="#efbd73" stroke="#d49a4a" stroke-width="0.35"/>
    <rect x="1435.5" y="184.3" width="1.2" height="1" fill="#fbe9c8"/>
    <rect x="1438.8" y="183.3" width="8.8" height="3.5" fill="#efbd73" stroke="#d49a4a" stroke-width="0.35"/>
    <rect x="1444.3" y="184.3" width="1.2" height="1" fill="#fbe9c8"/>
    <rect x="1450.6" y="172.6" width="7.7" height="3.5" fill="#efbd73" stroke="#d49a4a" stroke-width="0.35"/>
    <rect x="1455.4" y="173.7" width="1.2" height="1" fill="#fbe9c8"/>
    <rect x="1458.3" y="172.6" width="7.7" height="3.5" fill="#efbd73" stroke="#d49a4a" stroke-width="0.35"/>
    <rect x="1463.1" y="173.7" width="1.2" height="1" fill="#fbe9c8"/>
    <rect x="1466.1" y="172.6" width="7.7" height="3.5" fill="#efbd73" stroke="#d49a4a" stroke-width="0.35"/>
    <rect x="1470.9" y="173.7" width="1.2" height="1" fill="#fbe9c8"/>
    <rect x="1450.6" y="176.2" width="7.7" height="3.5" fill="#efbd73" stroke="#d49a4a" stroke-width="0.35"/>
    <rect x="1455.4" y="177.2" width="1.2" height="1" fill="#fbe9c8"/>
    <rect x="1458.3" y="176.2" width="7.7" height="3.5" fill="#efbd73" stroke="#d49a4a" stroke-width="0.35"/>
    <rect x="1463.1" y="177.2" width="1.2" height="1" fill="#fbe9c8"/>
    <rect x="1466.1" y="176.2" width="7.7" height="3.5" fill="#efbd73" stroke="#d49a4a" stroke-width="0.35"/>
    <rect x="1470.9" y="177.2" width="1.2" height="1" fill="#fbe9c8"/>
    <rect x="1450.6" y="179.7" width="7.7" height="3.5" fill="#efbd73" stroke="#d49a4a" stroke-width="0.35"/>
    <rect x="1455.4" y="180.8" width="1.2" height="1" fill="#fbe9c8"/>
    <rect x="1458.3" y="179.7" width="7.7" height="3.5" fill="#efbd73" stroke="#d49a4a" stroke-width="0.35"/>
    <rect x="1463.1" y="180.8" width="1.2" height="1" fill="#fbe9c8"/>
    <rect x="1466.1" y="179.7" width="7.7" height="3.5" fill="#efbd73" stroke="#d49a4a" stroke-width="0.35"/>
    <rect x="1470.9" y="180.8" width="1.2" height="1" fill="#fbe9c8"/>
    <rect x="1450.6" y="183.2" width="7.7" height="3.5" fill="#efbd73" stroke="#d49a4a" stroke-width="0.35"/>
    <rect x="1455.4" y="184.3" width="1.2" height="1" fill="#fbe9c8"/>
    <rect x="1458.3" y="183.2" width="7.7" height="3.5" fill="#efbd73" stroke="#d49a4a" stroke-width="0.35"/>
    <rect x="1463.1" y="184.3" width="1.2" height="1" fill="#fbe9c8"/>
    <rect x="1466.1" y="183.2" width="7.7" height="3.5" fill="#efbd73" stroke="#d49a4a" stroke-width="0.35"/>
    <rect x="1470.9" y="184.3" width="1.2" height="1" fill="#fbe9c8"/>
    <rect x="1430" y="186.4" width="83" height="1.4" fill="#d49a4a"/>
    <rect x="1423.6" y="187.6" width="90" height="4.6" fill="#e9eef3"/>
    <rect x="1423.6" y="191.4" width="90" height="0.9" fill="#b9c6d3"/>
    <rect x="1426" y="192.2" width="87" height="4" fill="#33475e"/>
    <rect x="1476.0" y="193.6" width="2.2" height="1" fill="#dfe7ef"/>
    <rect x="1481.0" y="193.6" width="2.2" height="1" fill="#dfe7ef"/>
    <rect x="1486.0" y="193.6" width="2.2" height="1" fill="#dfe7ef"/>
    <rect x="1491.0" y="193.6" width="2.2" height="1" fill="#dfe7ef"/>
    <rect x="1496.0" y="193.6" width="2.2" height="1" fill="#dfe7ef"/>
    <circle cx="1442.4" cy="197.6" r="5.8" fill="#26364a"/>
    <circle cx="1503.6" cy="198" r="6.8" fill="#26364a"/>
    <circle cx="1503.6" cy="198" r="3.2" fill="#dfe7ef"/>
    <rect x="1429.6" y="192" width="12.6" height="5.8" fill="#e9eef3"/>
    <rect x="1436.6" y="190.6" width="8.6" height="2.6" fill="#2b3d52"/>
    <path d="M1397.4 183.6 L1400.6 171.6 Q1401.4 169.4 1404 169.4 L1421.6 169.4 Q1423.8 169.6 1423.8 172 L1423.8 197.6 L1396.6 197.6 L1396.6 187 Z" fill="#e8eef5"/>
    <polygon points="1400,172.6 1405,170.8 1403.8,181.4 1398.2,183.2" fill="#8ed6f8"/>
    <polygon points="1405.8,171.4 1417,171.8 1417,180 1406.2,183.2" fill="#7fd0f6"/>
    <path d="M1407.6 181.6 L1411.8 172.2 M1410.6 181.2 L1414.8 172.6 M1399.4 181.2 L1402.4 173" stroke="#c8ecfc" stroke-width="1.1"/>
    <rect x="1396.6" y="183.8" width="5.2" height="8.8" fill="#5b7088"/>
    <rect x="1396.2" y="193" width="10.4" height="4.6" fill="#2b3d52"/>
    <rect x="1399.6" y="194.4" width="3.6" height="1.8" fill="#5cc4f6"/>
    <path d="M1411.4 197.8 A7.6 7.6 0 0 1 1426.6 197.8 Z" fill="#2b3d52"/>
    <rect x="1417.6" y="181.4" width="4" height="0.9" fill="#9fb0c4"/>
    <circle cx="1419.2" cy="197.6" r="5.8" fill="#26364a"/>
    <circle cx="1419.2" cy="197.6" r="3.3" fill="#e6ecf2"/>
    <circle cx="1419.2" cy="197.6" r="1.4" fill="#a9b8c9"/>
    <path d="M1445.6 197.8 A7.4 7.4 0 0 1 1460.4 197.8 Z" fill="#2b3d52"/>
    <circle cx="1453.2" cy="197.6" r="5.8" fill="#26364a"/>
    <circle cx="1453.2" cy="197.6" r="3.3" fill="#e6ecf2"/>
    <circle cx="1453.2" cy="197.6" r="1.4" fill="#a9b8c9"/>
    <g>
      <path d="M1464.7 181 V199 M1471.6 181 V199" stroke="#ef8a1d" stroke-width="1.5"/>
      <path d="M1464 181.4 L1472 186.4 M1472 181.4 L1464 186.4" stroke="#f4a340" stroke-width="0.8"/>
      <rect x="1463.2" y="180.4" width="9.6" height="1.4" fill="#f08a1c"/>
      <path d="M1472.4 185.4 L1482.6 184.6 L1483.4 196" fill="none" stroke="#33475e" stroke-width="1"/>
      <path d="M1463.6 196.4 L1471 196.2 L1473.6 192.8 L1485 192.2 Q1486 192.4 1486 193.6 L1486 201.6 L1463.6 201.6 Z" fill="#f08a1c"/>
      <rect x="1477.4" y="190.6" width="5.4" height="4.4" fill="#7a4524"/>
      <rect x="1474" y="189.2" width="4.4" height="5" rx="1" fill="#f4f6f8"/>
      <circle cx="1476.2" cy="187.8" r="1.3" fill="#e9b48a"/><path d="M1474.8 187.4 A1.5 1.5 0 0 1 1477.7 187.2 Z" fill="#f4c41f"/>
      <circle cx="1467.4" cy="201.8" r="2.6" fill="#2b3d52"/><circle cx="1467.4" cy="201.8" r="1.1" fill="#f4b35a"/>
      <circle cx="1481.6" cy="201.8" r="2.6" fill="#2b3d52"/><circle cx="1481.6" cy="201.8" r="1.1" fill="#f4b35a"/>
    </g>
  </g>

  <!-- /ILLS -->
  <!-- dashed flow curve -->
  <path id="flow" fill="none" stroke="#fff" stroke-width="4.4" stroke-dasharray="16 8"
        d="M299.0 245.3 C302.0 248.1 310.6 257.2 317.0 262.2 C323.4 267.2 330.4 271.6 337.2 275.5 C343.9 279.5 350.4 282.8 357.5 285.9 C364.6 289.1 372.5 292.0 380.0 294.4 C387.5 296.7 395.0 298.8 402.5 300.1 C410.0 301.5 416.5 302.3 425.0 302.6 C433.5 303.0 443.5 302.7 453.6 302.1 C463.7 301.6 476.2 300.6 485.7 299.2 C495.2 297.9 502.6 296.0 510.5 294.0 C518.4 291.9 525.5 289.4 533.0 286.8 C540.5 284.2 547.6 281.1 555.5 278.2 C563.4 275.3 572.0 272.0 580.2 269.3 C588.5 266.6 597.1 264.1 605.0 262.1 C612.9 260.0 618.8 258.3 627.5 257.0 C636.2 255.7 646.6 254.6 657.3 254.2 C668.0 253.8 681.8 253.9 691.7 254.5 C701.6 255.1 708.6 256.3 716.5 258.0 C724.4 259.7 731.5 261.9 739.0 264.5 C746.5 267.2 754.0 270.6 761.5 273.9 C769.0 277.2 776.5 281.2 784.0 284.4 C791.5 287.7 799.0 290.9 806.5 293.4 C814.0 296.0 821.5 298.1 829.0 299.8 C836.5 301.4 844.7 302.6 851.5 303.4 C858.3 304.3 861.8 304.8 870.0 304.9 C878.2 305.1 891.7 305.0 901.0 304.4 C910.3 303.9 917.8 302.9 925.7 301.4 C933.6 300.0 940.7 298.2 948.2 295.9 C955.7 293.5 963.2 290.5 970.7 287.3 C978.2 284.1 986.2 279.9 993.2 276.6 C1000.2 273.3 1006.1 269.9 1013.0 267.3 C1019.9 264.7 1027.7 262.7 1034.5 261.1 C1041.3 259.5 1047.7 258.5 1054.0 257.9 C1060.3 257.3 1063.8 257.2 1072.4 257.6 C1081.0 258.0 1096.4 258.8 1105.7 260.1 C1115.0 261.4 1120.7 263.3 1128.2 265.4 C1135.7 267.5 1143.2 270.2 1150.7 272.7 C1158.2 275.3 1165.7 278.1 1173.2 280.6 C1180.7 283.1 1188.2 285.7 1195.7 287.9 C1203.2 290.1 1210.7 292.1 1218.2 293.8 C1225.7 295.6 1232.3 297.2 1240.7 298.4 C1249.1 299.6 1259.4 300.7 1268.8 300.9 C1278.2 301.1 1288.6 300.6 1297.0 299.7 C1305.4 298.8 1311.7 297.2 1319.0 295.5 C1326.3 293.7 1333.5 291.5 1341.0 289.3 C1348.5 287.1 1356.5 284.5 1364.0 282.0 C1371.5 279.5 1378.7 276.8 1386.0 274.2 C1393.3 271.7 1401.0 268.9 1408.0 266.9 C1415.0 264.8 1421.2 263.1 1428.2 262.1 C1435.2 261.0 1441.4 260.5 1450.0 260.3 C1458.6 260.2 1471.2 260.3 1480.0 261.1 C1488.8 261.8 1495.0 263.1 1502.5 265.0 C1510.0 266.8 1517.5 269.5 1525.0 272.2 C1532.5 274.8 1541.3 278.1 1547.5 281.0 C1553.7 283.8 1557.3 286.8 1562.0 289.6 C1566.7 292.3 1571.9 294.8 1575.6 297.3 C1579.3 299.8 1581.0 302.0 1584.0 304.4 C1587.0 306.7 1592.0 310.2 1593.6 311.4"/>
  <!-- badges -->
  <g fill="#f6850d" stroke="#fff" stroke-width="1.8">
    <circle cx="453.9" cy="301.8" r="10.8"/>
    <circle cx="657.8" cy="250.3" r="10.8"/>
    <circle cx="870" cy="303.6" r="10.8"/>
    <circle cx="1072.6" cy="254.7" r="10.8"/>
    <circle cx="1269.5" cy="302.1" r="10.8"/>
    <circle cx="1450.2" cy="258.6" r="10.8"/>
  </g>
</svg>

<div id="txt">
<div class="t title">板式柔性生产线流程</div>
<div class="bar"></div>
<div class="t sub">降低成本、增产提效、做大做强轻松解决板式家具生产难题</div>

<div class="num" style="left:443.9px;top:293.0px">1</div>
<div class="num" style="left:647.8px;top:241.5px">2</div>
<div class="num" style="left:860.0px;top:294.8px">3</div>
<div class="num" style="left:1062.6px;top:245.9px">4</div>
<div class="num" style="left:1259.5px;top:293.3px">5</div>
<div class="num" style="left:1440.2px;top:249.8px">6</div>

<!-- step 1 -->
<div class="t h" style="left:403.0px;top:321.5px">板式家具设计软件</div>
<div class="t b" style="left:405.2px;top:339.9px"><i>•</i>门店接单 设计仅需五分钟</div>
<div class="t b" style="left:405.2px;top:353.5px"><i>•</i>整屋设计 3D渲染效果</div>

<!-- step 2 -->
<div class="t h" style="left:613.7px;top:274.2px">工厂接收订单</div>
<div class="t b" style="left:615.9px;top:295.6px"><i>•</i>自动优化组合</div>
<div class="t b" style="left:615.9px;top:309.2px"><i>•</i>整屋设计 3D渲染效果</div>

<!-- step 3 -->
<div class="t h" style="left:840.0px;top:320.1px">数控开料机</div>
<div class="t b" style="left:814.2px;top:338.5px"><i>•</i>自动贴标</div>
<div class="t b" style="left:872.2px;top:338.5px"><i>•</i>自动上料</div>
<div class="t b" style="left:814.2px;top:352.3px"><i>•</i>垂直孔、开料、贴码一步到位</div>
<div class="t b" style="left:814.2px;top:365.6px"><i>•</i>自动下料</div>
<div class="t b" style="left:872.2px;top:365.6px"><i>•</i>自动除尘、清理台面</div>

<!-- step 4 -->
<div class="t h" style="left:1055.8px;top:276.3px">封边机</div>
<div class="t b" style="left:1001.2px;top:295.6px"><i>•</i>背面孔，四面侧孔一次加工完成</div>
<div class="t b" style="left:1001.2px;top:310.1px"><i>•</i>支持一次加工四块不同尺寸的板材</div>
<div class="t b" style="left:1001.2px;top:324.3px"><i>•</i>效率和精准度数倍传统生产模式</div>

<!-- step 5 -->
<div class="t h" style="left:1218.0px;top:320.5px">数控排钻加工中心</div>
<div class="t b" style="left:1219.2px;top:339.6px"><i>•</i>自动扫描条码</div>
<div class="t b" style="left:1219.2px;top:353.6px"><i>•</i>自动完成垂直和侧面打孔</div>

<!-- step 6 -->
<div class="t h" style="left:1421.0px;top:277.3px">试装出货</div>
<div class="t b" style="left:1421.7px;top:296.7px"><i>•</i>试装</div>
<div class="t b" style="left:1421.7px;top:310.8px"><i>•</i>包装出货</div>
</div>
</div>
</body>
</html>
